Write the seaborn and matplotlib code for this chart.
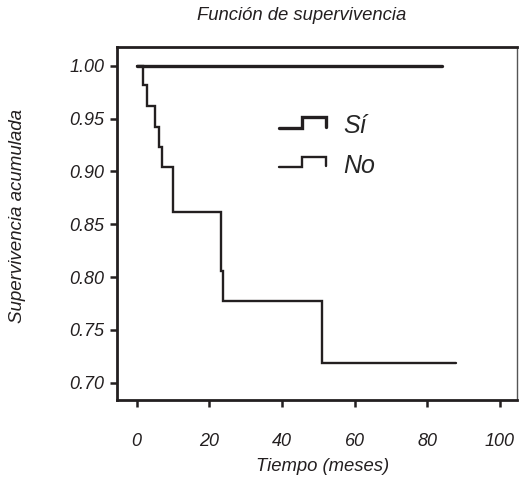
import matplotlib
matplotlib.use('Agg')
import matplotlib.pyplot as plt
from matplotlib.legend_handler import HandlerBase
from matplotlib.lines import Line2D
import seaborn as sns
import pandas as pd

# datos
t_si = [0, 84]
s_si = [1.0, 1.0]
t_no = [0, 1.8, 2.9, 5.1, 6.1, 7.0, 10.1, 23.1, 23.9, 50.9, 87.9]
s_no = [1.0, 0.982, 0.962, 0.942, 0.923, 0.904, 0.862, 0.806, 0.777, 0.719, 0.719]
grupos = ['Sí', 'No']
xticks = [0, 20, 40, 60, 80, 100]
yticks = [0.70, 0.75, 0.80, 0.85, 0.90, 0.95, 1.00]

df = pd.concat([
    pd.DataFrame({'tiempo': t_si, 'surv': s_si, 'grupo': 'Sí'}),
    pd.DataFrame({'tiempo': t_no, 'surv': s_no, 'grupo': 'No'}),
])

sns.set_style('white')
plt.rcParams['font.family'] = ['Liberation Sans', 'DejaVu Sans']
plt.rcParams['font.style'] = 'italic'
ink = '#231f20'


class StepHandler(HandlerBase):
    # simbolo de leyenda en forma de escalon
    def create_artists(self, legend, orig, xd, yd, w, h, fontsize, trans):
        xs = [-xd, -xd + 0.5 * w, -xd + 0.5 * w, -xd + w, -xd + w]
        ys = [-yd + 0.3 * h, -yd + 0.3 * h, -yd + 0.9 * h, -yd + 0.9 * h, -yd + 0.35 * h]
        ln = Line2D(xs, ys, color=orig.get_color(), lw=orig.get_linewidth(),
                    solid_joinstyle='miter', transform=trans)
        return [ln]


fig = plt.figure(figsize=(5.19, 4.80), dpi=100)
ax = fig.add_axes([0.2249, 0.1667, 0.9960 - 0.2249, 0.902 - 0.1667])

sns.lineplot(data=df, x='tiempo', y='surv', hue='grupo', size='grupo',
             palette={'Sí': ink, 'No': ink}, sizes={'Sí': 2.4, 'No': 1.7},
             estimator=None, drawstyle='steps-post', legend=False, ax=ax,
             solid_joinstyle='miter')

ax.set_xlim(-5.5, 104.7)
ax.set_ylim(0.6836, 1.0177)
ax.set_xticks(xticks)
ax.set_xticklabels([str(v) for v in xticks])
ax.set_yticks(yticks)
ax.set_yticklabels([f'{v:.2f}' for v in yticks])
ax.tick_params(axis='x', direction='out', length=5, width=1.8, color=ink,
               pad=19, labelsize=13, labelcolor=ink, bottom=True)
ax.tick_params(axis='y', direction='out', length=5, width=1.8, color=ink,
               pad=4, labelsize=13, labelcolor=ink, left=True)

for side in ['left', 'bottom', 'top']:
    ax.spines[side].set_linewidth(2.0)
    ax.spines[side].set_color(ink)
ax.spines['right'].set_linewidth(1.0)
ax.spines['right'].set_color('#555555')

ax.set_xlabel('Tiempo (meses)', fontsize=13.3, color=ink)
ax.set_ylabel('Supervivencia acumulada', fontsize=13.5, color=ink)
ax.xaxis.set_label_coords(0.515, -0.163)
ax.yaxis.set_label_coords(-0.226, 0.52)
fig.text(0.582, 0.968, 'Función de supervivencia', ha='center', va='center',
         fontsize=13.3, color=ink)

handles = [ax.lines[0], ax.lines[1]]
ax.legend(handles, grupos, handler_map={Line2D: StepHandler()},
          loc='upper left', bbox_to_anchor=(0.405, 0.81), frameon=False,
          fontsize=18, handlelength=1.88, handleheight=0.7, handletextpad=0.68,
          labelspacing=0.62, borderpad=0, borderaxespad=0)

fig.savefig('out.png', dpi=100)
